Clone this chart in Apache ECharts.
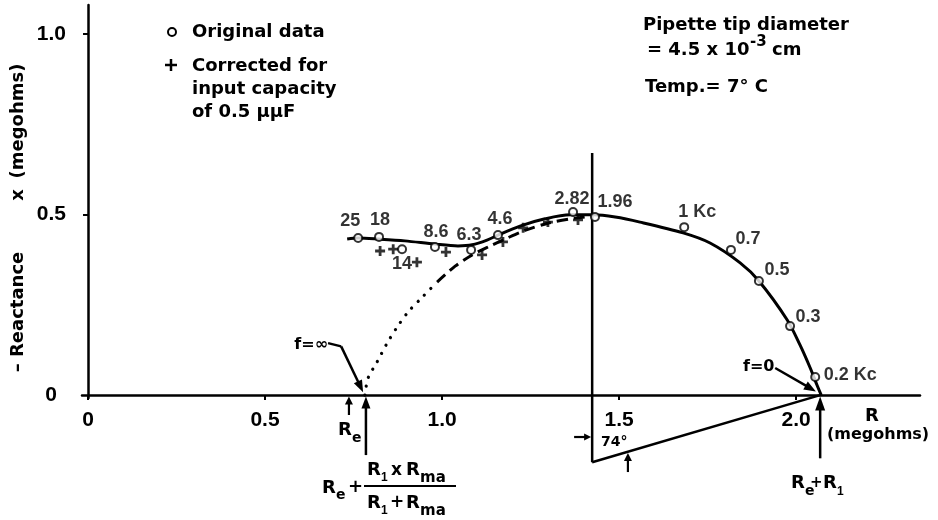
<!DOCTYPE html>
<html>
<head>
<meta charset="utf-8">
<script src="https://cdn.jsdelivr.net/npm/echarts@6/dist/echarts.min.js"></script>
<style>
  html, body { margin: 0; padding: 0; background: #fff; }
  #chart { width: 938px; height: 520px; }
</style>
</head>
<body>
<div id="chart"></div>
<script>
// Impedance locus of the pipette tip: resistance R against -reactance x, both in megohms.

// Frequencies (Kc) of the measured points
const freqLabels = ['25', '18', '14', '8.6', '6.3', '4.6', '2.82', '1.96', '1 Kc', '0.7', '0.5', '0.3', '0.2 Kc'];
// Original data
const originalR = [0.763, 0.822, 0.887, 0.980, 1.082, 1.158, 1.370, 1.432, 1.684, 1.816, 1.895, 1.983, 2.054];
const originalX = [0.435, 0.438, 0.404, 0.410, 0.402, 0.443, 0.507, 0.493, 0.465, 0.402, 0.316, 0.191, 0.050];
// Corrected for input capacity of 0.5 uuF
const correctedR = [0.825, 0.862, 0.929, 1.011, 1.113, 1.172, 1.229, 1.299, 1.384];
const correctedX = [0.399, 0.404, 0.368, 0.396, 0.388, 0.424, 0.463, 0.479, 0.485];

// Curve drawn through the original data
const fitR = [0.732, 0.763, 0.822, 0.895, 0.980, 1.045, 1.085, 1.127, 1.158, 1.220, 1.291, 1.362, 1.427,
              1.489, 1.559, 1.681, 1.757, 1.842, 1.895, 1.975, 2.011, 2.040, 2.059, 2.071];
const fitX = [0.432, 0.435, 0.432, 0.427, 0.418, 0.413, 0.416, 0.429, 0.443, 0.468, 0.488, 0.499, 0.499,
              0.493, 0.479, 0.449, 0.421, 0.366, 0.316, 0.208, 0.139, 0.075, 0.028, 0.000];
// Curve through the corrected data
const corrFitR = [0.986, 1.037, 1.085, 1.136, 1.178, 1.229, 1.299, 1.376, 1.427];
const corrFitX = [0.313, 0.357, 0.388, 0.413, 0.432, 0.454, 0.476, 0.490, 0.496];
// Its extrapolation down to f = infinity
const extrapR = [0.782, 0.791, 0.816, 0.845, 0.873, 0.904, 0.944, 0.986];
const extrapX = [0.000, 0.047, 0.091, 0.144, 0.188, 0.230, 0.271, 0.313];

// Axis ticks
const xTicks = [0, 0.5, 1.0, 1.5, 2.0];
const yTickLabels = [0, 0.5, 1.0];
const yTickMarks = [0.5, 1.0];

// Characteristic resistances and construction of the depressed arc
const Re = 0.737;
const ReParallel = 0.785;   // Re + R1*Rma/(R1+Rma)
const ReR1 = 2.068;         // Re + R1
const arcCenter = [1.424, -0.186];
const arcVerticalTop = 0.670;

// Guide segments: [x1, y1, x2, y2, arrowhead length (0 = none), arrowhead half width, line width]
const guides = [
  [arcCenter[0], arcVerticalTop, arcCenter[0], arcCenter[1], 0, 0, 2.5],
  [arcCenter[0], arcCenter[1], ReR1, 0, 0, 0, 2.5],
  [Re, -0.055, Re, -0.004, 8, 4, 2.2],
  [ReParallel, -0.166, ReParallel, -0.004, 12, 4.5, 2.5],
  [ReR1, -0.175, ReR1, -0.004, 14, 5, 2.5],
  [1.941, 0.075, 2.056, 0.010, 12, 4.5, 2.5],
  [0.678, 0.144, 0.715, 0.135, 0, 0, 2.5],
  [0.715, 0.135, 0.777, 0.008, 12, 4.5, 2.5],
  [1.373, -0.116, 1.421, -0.116, 7, 3.5, 2.2],
  [1.525, -0.213, 1.525, -0.160, 8, 4, 2.2]
];

// Label offsets (px) of the frequency labels
const labelOffsets = [[-8, -17], [1, -17], [0, 15], [1, -15], [-2, -15], [2, -16], [-1, -13],
                      [20, -15], [13, -15], [17, -11], [18, -11], [18, -9], [35, -2]];

const TXT = '"DejaVu Sans", sans-serif';
const NUM = '"Liberation Sans", Arial, sans-serif';

function text(x, y, str, size, opts) {
  opts = opts || {};
  return {
    type: 'text', x: x, y: y, silent: true, rotation: opts.rotation || 0,
    style: {
      text: str,
      font: 'bold ' + size + 'px ' + (opts.family || TXT),
      fill: '#000',
      textAlign: opts.align || 'left',
      textVerticalAlign: 'middle'
    }
  };
}

function line(x1, y1, x2, y2, w) {
  return { type: 'line', silent: true, shape: { x1: x1, y1: y1, x2: x2, y2: y2 },
           style: { stroke: '#000', lineWidth: w || 2.5 } };
}

const annotations = [
  // key
  { type: 'circle', silent: true, shape: { cx: 172, cy: 32, r: 4 }, style: { fill: '#fff', stroke: '#000', lineWidth: 2 } },
  text(192, 32, 'Original data', 18),
  line(165, 65, 177, 65, 2.5),
  line(171, 59, 171, 71, 2.5),
  text(192, 66, 'Corrected for', 18),
  text(192, 89, 'input capacity', 18),
  text(192, 112, 'of 0.5 \u03bc\u03bcF', 18),
  // conditions
  text(643, 25, 'Pipette tip diameter', 18),
  text(647, 50, '= 4.5 x 10', 18),
  text(750, 42, '-3', 15),
  text(772, 50, 'cm', 18),
  text(645, 87, 'Temp.= 7\u00b0 C', 18),
  // axis titles
  text(18, 312, '\u2013 Reactance', 18, { align: 'center', rotation: Math.PI / 2 }),
  text(18, 195, 'x', 18, { align: 'center', rotation: Math.PI / 2 }),
  text(18, 121, '(megohms)', 18, { align: 'center', rotation: Math.PI / 2 }),
  text(865, 416, 'R', 18),
  text(827, 435, '(megohms)', 16),
  // frequency limits
  text(328, 345, 'f=\u221e', 16, { align: 'right' }),
  text(743, 367, 'f=0', 16),
  text(601, 442, '74\u00b0', 14),
  // Re
  text(338, 430, 'R', 18),
  text(352, 438, 'e', 14),
  // Re + R1*Rma/(R1+Rma)
  text(322, 488, 'R', 18),
  text(336, 495, 'e', 14),
  text(348, 487, '+', 18),
  text(367, 470, 'R', 18),
  text(381, 478, '1', 12, { family: NUM }),
  text(391, 471, 'x', 17),
  text(406, 470, 'R', 18),
  text(420, 478, 'ma', 15),
  line(364, 486, 456, 486, 2),
  text(367, 503, 'R', 18),
  text(381, 511, '1', 12, { family: NUM }),
  text(390, 503, '+', 17),
  text(406, 503, 'R', 18),
  text(420, 511, 'ma', 15),
  // Re + R1
  text(791, 483, 'R', 18),
  text(805, 491, 'e', 14),
  text(810, 483, '+', 15),
  text(823, 483, 'R', 18),
  text(837, 492, '1', 12, { family: NUM })
];

const chart = echarts.init(document.getElementById('chart'), null, { renderer: 'canvas' });

const axisFont = { color: '#000', fontFamily: NUM, fontWeight: 'bold', fontSize: 21 };

chart.setOption({
  animation: false,
  backgroundColor: '#fff',
  grid: { left: 82, right: 18, top: 5, bottom: 122, outerBoundsMode: 'none' },
  xAxis: {
    type: 'value', min: -0.017, max: 2.35,
    axisLine: { onZero: true, lineStyle: { color: '#000', width: 2.5 } },
    axisTick: { customValues: xTicks, length: 5, lineStyle: { color: '#000', width: 2 } },
    axisLabel: Object.assign({
      customValues: xTicks, margin: 12,
      formatter: v => (v === 0 ? '0' : v.toFixed(1))
    }, axisFont),
    splitLine: { show: false }
  },
  yAxis: {
    type: 'value', min: -0.008, max: 1.08,
    axisLine: { onZero: true, lineStyle: { color: '#000', width: 2.5 } },
    axisTick: { customValues: yTickMarks, length: 5, lineStyle: { color: '#000', width: 2 } },
    axisLabel: Object.assign({
      customValues: yTickLabels, margin: 16,
      formatter: v => (v === 0 ? '{z|0}' : v.toFixed(1)),
      rich: { z: Object.assign({ padding: [0, 9, 0, 0] }, axisFont) }
    }, axisFont),
    splitLine: { show: false }
  },
  graphic: annotations,
  series: [
    {
      name: 'guides', type: 'custom', clip: false, silent: true, z: 2,
      data: guides,
      renderItem: function (params, api) {
        const p1 = api.coord([api.value(0), api.value(1)]);
        const p2 = api.coord([api.value(2), api.value(3)]);
        const len = api.value(4), hw = api.value(5), w = api.value(6);
        const dx = p2[0] - p1[0], dy = p2[1] - p1[1];
        const d = Math.sqrt(dx * dx + dy * dy);
        const ux = dx / d, uy = dy / d;
        const end = len ? [p2[0] - ux * len * 0.8, p2[1] - uy * len * 0.8] : p2;
        const children = [{
          type: 'line',
          shape: { x1: p1[0], y1: p1[1], x2: end[0], y2: end[1] },
          style: { stroke: '#000', lineWidth: w, lineCap: 'butt' }
        }];
        if (len) {
          const bx = p2[0] - ux * len, by = p2[1] - uy * len;
          children.push({
            type: 'polygon',
            shape: { points: [p2, [bx - uy * hw, by + ux * hw], [bx + uy * hw, by - ux * hw]] },
            style: { fill: '#000' }
          });
        }
        return { type: 'group', children: children };
      }
    },
    {
      name: 'extrapolation', type: 'line', smooth: 0.3, symbol: 'none', silent: true, z: 2,
      data: extrapR.map((r, i) => [r, extrapX[i]]),
      lineStyle: { color: '#000', width: 3.2, type: [0.1, 9], cap: 'round' }
    },
    {
      name: 'corrected fit', type: 'line', smooth: 0.3, symbol: 'none', silent: true, z: 2,
      data: corrFitR.map((r, i) => [r, corrFitX[i]]),
      lineStyle: { color: '#000', width: 3, type: [11, 6] }
    },
    {
      name: 'original fit', type: 'line', smooth: 0.3, symbol: 'none', silent: true, z: 3,
      data: fitR.map((r, i) => [r, fitX[i]]),
      lineStyle: { color: '#000', width: 3 }
    },
    {
      name: 'Corrected for input capacity of 0.5 \u03bc\u03bcF', type: 'scatter', z: 4, silent: true,
      symbol: 'path://M3.6,0H6.4V3.6H10V6.4H6.4V10H3.6V6.4H0V3.6H3.6Z', symbolSize: 10,
      itemStyle: { color: '#000' },
      data: correctedR.map((r, i) => [r, correctedX[i]])
    },
    {
      name: 'Original data', type: 'scatter', z: 5, silent: true,
      symbol: 'circle', symbolSize: 8,
      itemStyle: { color: '#fff', borderColor: '#000', borderWidth: 2 },
      label: {
        show: true, position: 'inside', formatter: '{b}',
        color: '#000', fontFamily: NUM, fontWeight: 'bold', fontSize: 18, textBorderWidth: 0
      },
      data: originalR.map((r, i) => ({
        value: [r, originalX[i]], name: freqLabels[i],
        label: { offset: labelOffsets[i] }
      }))
    }
  ]
});
</script>
</body>
</html>
